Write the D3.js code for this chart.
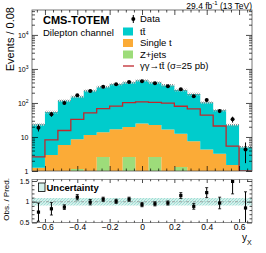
<!DOCTYPE html>
<html>
<head>
<meta charset="utf-8">
<script src="https://cdn.jsdelivr.net/npm/d3@7"></script>
<style>
  body { margin: 0; background: #fff; }
  text { font-family: "Liberation Sans", Arial, Helvetica, sans-serif; }
</style>
</head>
<body>
<div id="chart"></div>
<script>
// bin centres of y_X, width 0.08
const binCenters = [-0.64, -0.56, -0.48, -0.40, -0.32, -0.24, -0.16, -0.08, 0,
                    0.08, 0.16, 0.24, 0.32, 0.40, 0.48, 0.56, 0.64];
const binWidth = 0.08;

// stacked backgrounds (events per bin)
const zJets     = [0, 0, 0, 1.15, 0, 2.6, 0, 2.6, 0, 2.6, 0, 1.3, 0, 0, 0, 0, 0];
const singleTop = [1.25, 2.95, 5.8, 7.45, 11.4, 11.1, 16.8, 16.9, 25, 19.9, 16.5, 11.2, 7.5, 4.3, 3.2, 1.5, 0];
const ttbar     = [22, 51, 110, 143, 217, 279, 340, 380, 435, 375, 314, 228, 175, 99, 58, 21, 5.0];

// signal line gamma gamma -> ttbar (sigma = 25 pb)
const gammaTT = [2.6, 8.2, 15.5, 33, 51, 68, 81, 102, 108, 104, 99, 80, 67, 44, 21, 5.4, 0];

// data
const dataObs = [18.8, 46.5, 100, 168, 225, 302, 355, 415, 436, 378, 310, 253, 158, 123, 58, 33, 4.3];
const dataErr = [4.3, 7.5, 10, 13, 15, 17.4, 19, 20.4, 21, 19.4, 17.6, 16, 12.6, 11.1, 7.6, 6.5, 2.6];

// ratio panel
const ratioObs = [0.75, 0.83, 0.87, 1.11, 0.99, 1.06, 1.01, 1.06, 0.93, 0.95, 0.97, 1.15, 0.89, 1.22, 0.97, 1.49, 0.85];
const ratioErr = [0.22, 0.15, 0.056, 0.065, 0.065, 0.05, 0.05, 0.05, 0.05, 0.05, 0.05, 0.07, 0.07, 0.12, 0.14, 0.3, 0.39];
const uncRel   = [0.09, 0.09, 0.09, 0.09, 0.09, 0.09, 0.09, 0.09, 0.09, 0.09, 0.09, 0.09, 0.09, 0.09, 0.09, 0.09, 0.09];

// tick labels
const xTickValues = [-0.6, -0.4, -0.2, 0, 0.2, 0.4, 0.6];
const xTickLabels = ["\u22120.6", "\u22120.4", "\u22120.2", "0", "0.2", "0.4", "0.6"];
const yTickValues = [1, 10, 100, 1000, 10000];
const yTickBases  = ["1", "10", "10", "10", "10"];
const yTickExps   = ["", "", "2", "3", "4"];
const rTickValues = [0.5, 1, 1.5];
const rTickLabels = ["0.5", "1", "1.5"];

const legendLabels = ["Data", "t\u0074\u0304", "Single t", "Z+jets", "\u03b3\u03b3\u2192t\u0074\u0304 (\u03c3=25 pb)"];

const colors = { zjets: "#9ddc7a", single: "#fbab37", tt: "#00cccc" };
const signalColor = "#c0282d";

const width = 266, height = 253;
const svg = d3.select('#chart').append('svg')
  .attr('width', width)
  .attr('height', height);

const xs = d3.scaleLinear().domain([-0.68, 0.68]).range([32, 252]);
const ys = d3.scaleLog().domain([1, 54000]).range([171, 10]).clamp(true);
const rs = d3.scaleLinear().domain([0.5, 1.536]).range([222.5, 179.5]);

const defs = svg.append('defs');
defs.append('clipPath').attr('id', 'clipMain')
  .append('rect').attr('x', 32).attr('y', 10).attr('width', 220).attr('height', 161);
defs.append('clipPath').attr('id', 'clipRatio')
  .append('rect').attr('x', 32).attr('y', 179.5).attr('width', 220).attr('height', 43);

const hm = defs.append('pattern').attr('id', 'hatchMain')
  .attr('patternUnits', 'userSpaceOnUse').attr('width', 2).attr('height', 2);
hm.append('rect').attr('width', 1).attr('height', 1).attr('fill', '#8a8a8a');
hm.append('rect').attr('x', 1).attr('y', 1).attr('width', 1).attr('height', 1).attr('fill', '#bdbdbd');

const hr = defs.append('pattern').attr('id', 'hatchRatio')
  .attr('patternUnits', 'userSpaceOnUse').attr('width', 3).attr('height', 3);
hr.append('rect').attr('width', 3).attr('height', 3).attr('fill', '#d4f1ec');
hr.append('path').attr('d', 'M0,3 L3,0').attr('stroke', '#93d9cf').attr('stroke-width', 0.8);

// step helpers: one point per bin low edge, plus the last high edge
const stepPoints = (vals) => {
  const pts = binCenters.map((c, i) => ({ x: c - binWidth / 2, v: vals[i] }));
  pts.push({ x: binCenters[binCenters.length - 1] + binWidth / 2, v: vals[vals.length - 1] });
  return pts;
};
const floor1 = v => Math.max(v, 1);

// ---- main panel
const table = binCenters.map((c, i) => ({ c, zjets: zJets[i], single: singleTop[i], tt: ttbar[i] }));
const stacked = d3.stack().keys(['zjets', 'single', 'tt'])(table);

const main = svg.append('g').attr('clip-path', 'url(#clipMain)');

const area = d3.area()
  .x(p => xs(p.x))
  .y0(p => ys(floor1(p.y0)))
  .y1(p => ys(floor1(p.y1)))
  .curve(d3.curveStepAfter);

stacked.forEach(layer => {
  const pts = layer.map(d => ({ x: d.data.c - binWidth / 2, y0: d[0], y1: d[1] }));
  const last = layer[layer.length - 1];
  pts.push({ x: last.data.c + binWidth / 2, y0: last[0], y1: last[1] });
  main.append('path').attr('d', area(pts)).attr('fill', colors[layer.key]);
});

// uncertainty on the total prediction
const total = table.map(d => d.zjets + d.single + d.tt);
const uncPts = stepPoints(total).map((p, i) => {
  const u = uncRel[Math.min(i, uncRel.length - 1)];
  return { x: p.x, y0: p.v * (1 - u), y1: p.v * (1 + u) };
});
main.append('path').attr('d', area(uncPts)).attr('fill', 'url(#hatchMain)');

// signal line
const stepLine = d3.line()
  .x(p => xs(p.x))
  .y(p => ys(floor1(p.v)))
  .curve(d3.curveStepAfter);
main.append('path')
  .attr('d', stepLine(stepPoints(gammaTT)))
  .attr('fill', 'none')
  .attr('stroke', signalColor)
  .attr('stroke-width', 1.3);

// data points
main.selectAll('line.err').data(binCenters).join('line')
  .attr('class', 'err')
  .attr('x1', d => xs(d)).attr('x2', d => xs(d))
  .attr('y1', (d, i) => ys(floor1(dataObs[i] - dataErr[i])))
  .attr('y2', (d, i) => ys(dataObs[i] + dataErr[i]))
  .attr('stroke', '#000').attr('stroke-width', 1);
main.selectAll('circle').data(binCenters).join('circle')
  .attr('cx', d => xs(d))
  .attr('cy', (d, i) => ys(dataObs[i]))
  .attr('r', 2).attr('fill', '#000');

// ---- ratio panel
const ratio = svg.append('g').attr('clip-path', 'url(#clipRatio)');
const ratioArea = d3.area()
  .x(p => xs(p.x))
  .y0(p => rs(1 - p.v))
  .y1(p => rs(1 + p.v))
  .curve(d3.curveStepAfter);
ratio.append('path').attr('d', ratioArea(stepPoints(uncRel))).attr('fill', 'url(#hatchRatio)');
ratio.append('line')
  .attr('x1', 32).attr('x2', 252)
  .attr('y1', rs(1)).attr('y2', rs(1))
  .attr('stroke', '#8a8a8a').attr('stroke-width', 0.7).attr('stroke-dasharray', '3,1.5,1,1.5');

const rg = ratio.selectAll('g.pt').data(binCenters).join('g').attr('class', 'pt');
rg.append('line')
  .attr('x1', d => xs(d)).attr('x2', d => xs(d))
  .attr('y1', (d, i) => rs(ratioObs[i] - ratioErr[i]))
  .attr('y2', (d, i) => rs(ratioObs[i] + ratioErr[i]))
  .attr('stroke', '#000').attr('stroke-width', 1);
[-1, 1].forEach(s => {
  rg.append('line')
    .attr('x1', d => xs(d) - 1.5).attr('x2', d => xs(d) + 1.5)
    .attr('y1', (d, i) => rs(ratioObs[i] + s * ratioErr[i]))
    .attr('y2', (d, i) => rs(ratioObs[i] + s * ratioErr[i]))
    .attr('stroke', '#000').attr('stroke-width', 0.8);
});
rg.append('rect')
  .attr('x', d => xs(d) - 1.6)
  .attr('y', (d, i) => rs(ratioObs[i]) - 1.6)
  .attr('width', 3.2).attr('height', 3.2).attr('fill', '#000');

// ---- frames
svg.append('rect').attr('x', 32).attr('y', 10).attr('width', 220).attr('height', 161)
  .attr('fill', 'none').attr('stroke', '#555').attr('stroke-width', 0.8);
svg.append('rect').attr('x', 32).attr('y', 179.5).attr('width', 220).attr('height', 43)
  .attr('fill', 'none').attr('stroke', '#777').attr('stroke-width', 0.8);

// ---- axes (ticks inward)
const xMinor = d3.range(-13, 14).map(k => k * 0.05).filter(v => Math.abs(v * 5 - Math.round(v * 5)) > 1e-6);
const styleAxis = g => {
  g.select('.domain').remove();
  g.selectAll('.tick line').attr('stroke', '#000').attr('stroke-width', 0.7);
};

const addX = (y, top, size, values) => {
  const ax = (top ? d3.axisTop(xs) : d3.axisBottom(xs)).tickValues(values).tickSize(-size).tickFormat('');
  svg.append('g').attr('transform', `translate(0,${y})`).call(ax).call(styleAxis);
};
addX(171, false, 5, xTickValues); addX(171, false, 2.5, xMinor);
addX(10, true, 5, xTickValues);   addX(10, true, 2.5, xMinor);
addX(179.5, true, 3.5, xTickValues); addX(179.5, true, 1.8, xMinor);
addX(222.5, false, 3.5, xMinor.length ? xTickValues : []); addX(222.5, false, 1.8, xMinor);

// x labels on ratio
svg.append('g').attr('transform', 'translate(0,222.5)')
  .call(d3.axisBottom(xs).tickValues(xTickValues).tickSize(0).tickPadding(1.5)
    .tickFormat((d, i) => xTickLabels[i]))
  .call(g => g.select('.domain').remove())
  .selectAll('text').attr('font-size', '8.5px').attr('fill', '#000')
  .attr('font-family', '"Liberation Sans", Arial, sans-serif');

// main y axis
const yMinor = ys.ticks().filter(v => yTickValues.indexOf(v) < 0);
svg.append('g').attr('transform', 'translate(32,0)')
  .call(d3.axisLeft(ys).tickValues(yTickValues).tickSize(-6).tickPadding(3.5))
  .call(styleAxis)
  .selectAll('.tick text')
  .attr('font-size', '7px').attr('fill', '#000')
  .attr('font-family', '"Liberation Sans", Arial, sans-serif')
  .each(function(d, i) {
    const t = d3.select(this);
    t.text(yTickBases[i]);
    if (yTickExps[i]) {
      t.append('tspan').attr('dy', '-0.45em').attr('font-size', '5px').text(yTickExps[i]);
    }
  });
svg.append('g').attr('transform', 'translate(32,0)')
  .call(d3.axisLeft(ys).tickValues(yMinor).tickSize(-3).tickFormat('')).call(styleAxis);
svg.append('g').attr('transform', 'translate(252,0)')
  .call(d3.axisRight(ys).tickValues(yTickValues).tickSize(-6).tickFormat('')).call(styleAxis);
svg.append('g').attr('transform', 'translate(252,0)')
  .call(d3.axisRight(ys).tickValues(yMinor).tickSize(-3).tickFormat('')).call(styleAxis);

// ratio y axis
const rMinor = d3.range(5, 16).map(k => k / 10).filter(v => rTickValues.indexOf(v) < 0);
svg.append('g').attr('transform', 'translate(32,0)')
  .call(d3.axisLeft(rs).tickValues(rTickValues).tickSize(-5).tickPadding(2.5)
    .tickFormat((d, i) => rTickLabels[i]))
  .call(styleAxis)
  .selectAll('text').attr('font-size', '7px').attr('fill', '#000')
  .attr('font-family', '"Liberation Sans", Arial, sans-serif');
svg.append('g').attr('transform', 'translate(32,0)')
  .call(d3.axisLeft(rs).tickValues(rMinor).tickSize(-2.5).tickFormat('')).call(styleAxis);
svg.append('g').attr('transform', 'translate(252,0)')
  .call(d3.axisRight(rs).tickValues(rTickValues).tickSize(-5).tickFormat('')).call(styleAxis);
svg.append('g').attr('transform', 'translate(252,0)')
  .call(d3.axisRight(rs).tickValues(rMinor).tickSize(-2.5).tickFormat('')).call(styleAxis);

// ---- titles and texts
svg.append('text').attr('x', 43).attr('y', 24)
  .attr('font-size', '11px').attr('font-weight', 'bold').text('CMS-TOTEM');
svg.append('text').attr('x', 43).attr('y', 35.5)
  .attr('font-size', '9.5px').text('Dilepton channel');

const lumi = svg.append('text').attr('x', 252).attr('y', 8.5)
  .attr('text-anchor', 'end').attr('font-size', '8.5px');
lumi.append('tspan').text('29.4 fb');
lumi.append('tspan').attr('dy', -3.5).attr('font-size', '6px').text('-1');
lumi.append('tspan').attr('dy', 3.5).text(' (13 TeV)');

svg.append('text').attr('transform', 'translate(13.5,7) rotate(-90)')
  .attr('text-anchor', 'end').attr('font-size', '11px').text('Events / 0.08');
svg.append('text').attr('transform', 'translate(9,178) rotate(-90)')
  .attr('text-anchor', 'end').attr('font-size', '8px').text('Obs. / Pred.');

const xl = svg.append('text').attr('x', 242).attr('y', 240.5).attr('font-size', '10px');
xl.append('tspan').text('y');
xl.append('tspan').attr('dy', 4.5).attr('font-size', '7px').text('X');

// legend
const legY = [19, 31.5, 43, 54.5, 66];
const leg = svg.append('g');
leg.append('line').attr('x1', 133.3).attr('x2', 133.3).attr('y1', legY[0] - 4).attr('y2', legY[0] + 4)
  .attr('stroke', '#000').attr('stroke-width', 1);
leg.append('circle').attr('cx', 133.3).attr('cy', legY[0]).attr('r', 2).attr('fill', '#000');
leg.append('rect').attr('x', 123).attr('y', legY[1] - 4).attr('width', 10).attr('height', 8).attr('fill', colors.tt);
leg.append('rect').attr('x', 123).attr('y', legY[2] - 4).attr('width', 10).attr('height', 8).attr('fill', colors.single);
leg.append('rect').attr('x', 123).attr('y', legY[3] - 4).attr('width', 10).attr('height', 8).attr('fill', colors.zjets);
leg.append('line').attr('x1', 123).attr('x2', 134).attr('y1', legY[4]).attr('y2', legY[4])
  .attr('stroke', signalColor).attr('stroke-width', 1.3);
leg.selectAll('text').data(legendLabels).join('text')
  .attr('x', 140).attr('y', (d, i) => legY[i] + 3.4)
  .attr('font-size', '9.5px').text(d => d);

// ratio legend
svg.append('rect').attr('x', 38.5).attr('y', 183).attr('width', 6.5).attr('height', 8.5)
  .attr('fill', '#d4f1ec').attr('stroke', '#000').attr('stroke-width', 0.8);
svg.append('text').attr('x', 46.5).attr('y', 191)
  .attr('font-size', '9.5px').attr('font-weight', 'bold').text('Uncertainty');
</script>
</body>
</html>
